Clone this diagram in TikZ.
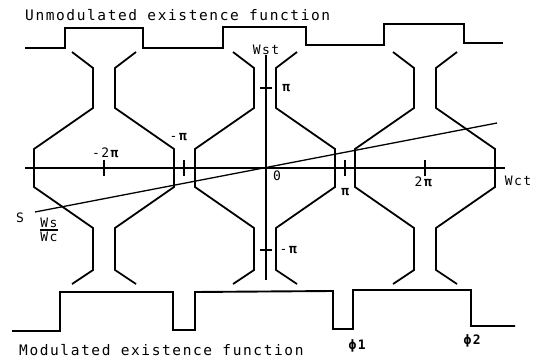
\documentclass[tikz,border=0pt]{standalone}
\usepackage{fontspec}
\newfontfamily\twfont[LetterSpace=11]{DejaVu Sans Mono}
\usetikzlibrary{calc}

\begin{document}
\begin{tikzpicture}[x=1pt,y=-1pt,
 wave/.style={line width=1.9pt,line join=miter},
 bone/.style={line width=1.8pt,line join=miter},
 axis/.style={line width=1.3pt},
 tick/.style={line width=1.6pt},
 title/.style={font=\twfont\fontsize{14.5}{14.5}\selectfont,anchor=west,inner sep=0pt},
 lbl/.style={font=\twfont\fontsize{13}{13}\selectfont,inner sep=0pt}]
\useasboundingbox (0,0) rectangle (541,361);
\node[title] (utitle) at (25,15) {Unmodulated existence function};
\node[title] (mtitle) at (19,350) {Modulated existence function};
\draw[wave] (25,48) -- (65,48) -- (65,28) -- (143,28) -- (143,48) -- (223,48) -- (223,27)
 -- (306,27) -- (306,45) -- (384,45) -- (384,24) -- (464,24) -- (464,43) -- (503,43);
\draw[wave] (12,331) -- (60,331) -- (60,292) -- (173,292) -- (173,330) -- (195,330) -- (195,292)
 -- (333,291) -- (333,329) -- (353,329) -- (353,290) -- (471,290) -- (471,326) -- (515,326);
\foreach \cx in {104,265,425}{
 \draw[bone] (\cx-32,52) -- (\cx-11,68) -- (\cx-11,108) -- (\cx-70,149) -- (\cx-70,187)
  -- (\cx-11,228) -- (\cx-11,270) -- (\cx-32,284);
 \draw[bone] (\cx+32,52) -- (\cx+11,68) -- (\cx+11,108) -- (\cx+70,149) -- (\cx+70,187)
  -- (\cx+11,228) -- (\cx+11,270) -- (\cx+32,284);
}
\coordinate (xl) at (25,168);
\coordinate (xr) at (505,168);
\coordinate (yt) at (266,55);
\coordinate (yb) at (266,280);
\draw[axis] (xl) -- (xr);
\draw[axis] (yt) -- (yb);
\foreach \tx in {104,184,345,425}
 \draw[tick] (\tx,160) -- (\tx,176);
\foreach \ty in {88,250}
 \draw[tick] (260,\ty) -- (272,\ty);
\coordinate (s0) at (35,212);
\coordinate (s1) at (497,123);
\draw[axis] (s0) -- (s1);
\node[lbl] (m2pi) at (106,153) {-2\textbf{π}};
\node[lbl] (mpi) at (179,137) {-\textbf{π}};
\node[lbl] (pi) at (346,192) {\textbf{π}};
\node[lbl] (twopi) at (424,182) {2\textbf{π}};
\node[lbl] (wct) at (518,181) {Wct};
\node[lbl] (orig) at (277,176) {0};
\node[lbl] (wst) at (266,50) {Wst};
\node[lbl] (vpi) at (287,88) {\textbf{π}};
\node[lbl] (vmpi) at (289,250) {-\textbf{π}};
\node[lbl] (sname) at (20,218) {S};
\node[lbl] (sfrac) at (49,230) {${\mbox{Ws}\above1.4pt\mbox{Wc}}$};
\node[lbl] (phione) at (358,346) {\textbf{ϕ1}};
\node[lbl] (phitwo) at (473,341) {\textbf{ϕ2}};
\end{tikzpicture}
\end{document}
